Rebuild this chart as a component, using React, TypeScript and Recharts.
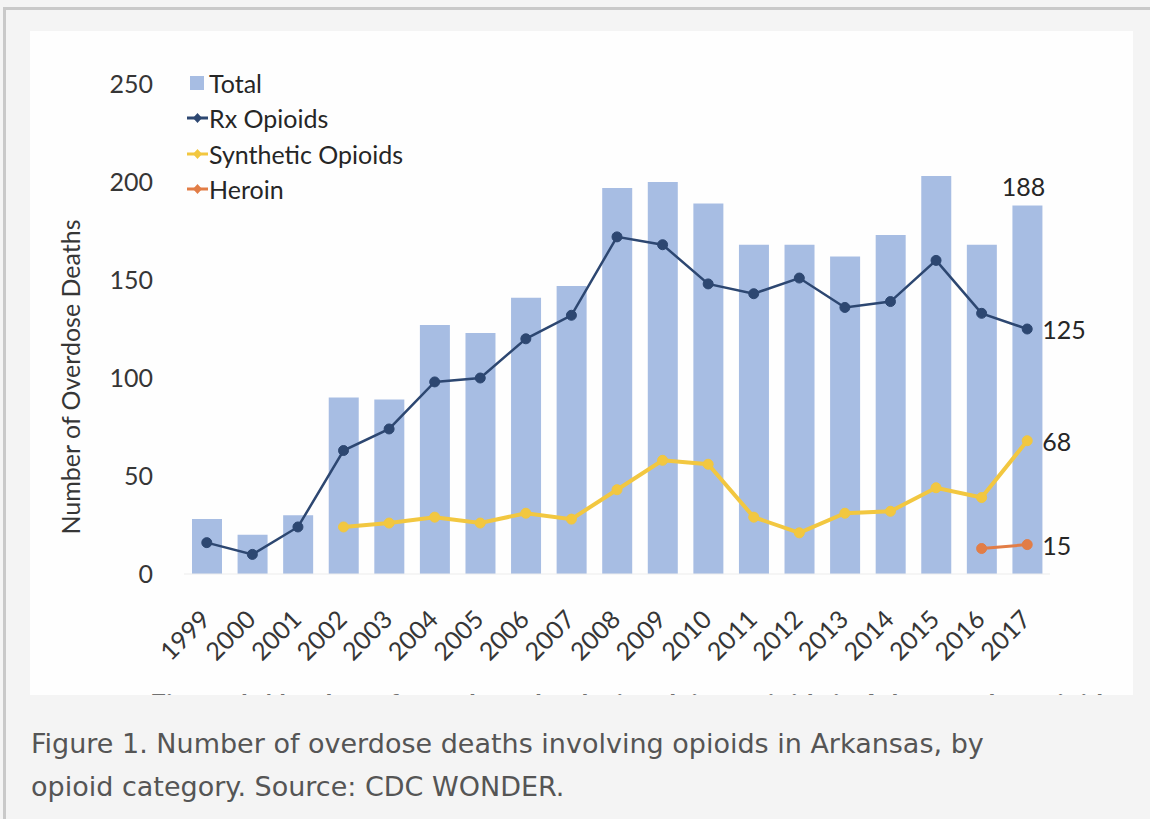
import React from 'react';
import {
  ComposedChart,
  Bar,
  Line,
  XAxis,
  YAxis,
  Legend,
  LabelList,
} from 'recharts';

// Overdose deaths involving opioids in Arkansas, 1999–2017 (CDC WONDER)
const years = [
  '1999', '2000', '2001', '2002', '2003', '2004', '2005', '2006', '2007', '2008',
  '2009', '2010', '2011', '2012', '2013', '2014', '2015', '2016', '2017',
];
const totalDeaths = [28, 20, 30, 90, 89, 127, 123, 141, 147, 197, 200, 189, 168, 168, 162, 173, 203, 168, 188];
const rxOpioidDeaths = [16, 10, 24, 63, 74, 98, 100, 120, 132, 172, 168, 148, 143, 151, 136, 139, 160, 133, 125];
const syntheticOpioidDeaths: (number | null)[] = [
  null, null, null, 24, 26, 29, 26, 31, 28, 43, 58, 56, 29, 21, 31, 32, 44, 39, 68,
];
const heroinDeaths: (number | null)[] = [
  null, null, null, null, null, null, null, null, null, null,
  null, null, null, null, null, null, null, 13, 15,
];
const yTicks = [0, 50, 100, 150, 200, 250];

const seriesNames = {
  total: 'Total',
  rx: 'Rx Opioids',
  synthetic: 'Synthetic Opioids',
  heroin: 'Heroin',
};
const legendOrder = [seriesNames.total, seriesNames.rx, seriesNames.synthetic, seriesNames.heroin];

const colors = {
  total: '#a7bde3',
  rx: '#2d4771',
  synthetic: '#f2c740',
  heroin: '#e27d46',
  text: '#363636',
  label: '#262626',
};

const chartFont = 'Lato, "Open Sans", sans-serif';

const data = years.map((year, i) => ({
  year,
  total: totalDeaths[i],
  rx: rxOpioidDeaths[i],
  synthetic: syntheticOpioidDeaths[i],
  heroin: heroinDeaths[i],
}));

const lastIndex = years.length - 1;

// Rotated year labels under each bar
const YearTick = (props: any) => {
  const { x, y, payload } = props;
  const ax = x + 5;
  const ay = y + 39;
  return (
    <text
      x={ax}
      y={ay}
      transform={`rotate(-45, ${ax}, ${ay})`}
      textAnchor="end"
      fontFamily={chartFont}
      fontSize={25}
      fill={colors.text}
    >
      {payload.value}
    </text>
  );
};

// Value written to the right of the final point of a line
const makeEndLabel = (color: string) => (props: any) => {
  const { x, y, value, index } = props;
  if (index !== lastIndex || value == null) return null;
  return (
    <text
      x={x + 15}
      y={y}
      dominantBaseline="central"
      fontFamily={chartFont}
      fontSize={25}
      fill={color}
    >
      {value}
    </text>
  );
};

// Value written above the final bar
const barEndLabel = (props: any) => {
  const { x, y, width, value, index } = props;
  if (index !== lastIndex) return null;
  return (
    <text
      x={x + width / 2 - 4}
      y={y - 10}
      textAnchor="middle"
      fontFamily={chartFont}
      fontSize={25}
      fill={colors.label}
    >
      {value}
    </text>
  );
};

const LegendIcon = ({ type, color }: { type: string; color: string }) => {
  if (type === 'square') {
    return (
      <svg width={22} height={20} style={{ display: 'block' }}>
        <rect x={3} y={3} width={14} height={14} fill={color} />
      </svg>
    );
  }
  return (
    <svg width={22} height={20} style={{ display: 'block' }}>
      <line x1={0} y1={10} x2={21} y2={10} stroke={color} strokeWidth={3} />
      <path d={`M10.5 5 L15 10 L10.5 15 L6 10 Z`} fill={color} />
    </svg>
  );
};

const renderLegend = (props: any) => {
  const payload = [...(props.payload || [])].sort(
    (a: any, b: any) => legendOrder.indexOf(a.value) - legendOrder.indexOf(b.value),
  );
  return (
    <div style={{ display: 'flex', flexDirection: 'column' }}>
      {payload.map((entry: any) => (
        <div
          key={entry.value}
          style={{
            display: 'flex',
            alignItems: 'center',
            height: 35.5,
            fontFamily: chartFont,
            fontSize: 25,
            color: colors.label,
            whiteSpace: 'nowrap',
          }}
        >
          <LegendIcon type={entry.type === 'rect' ? 'square' : 'line'} color={entry.color} />
          <span>{entry.value}</span>
        </div>
      ))}
    </div>
  );
};

const yTitle = (props: any) => {
  const { viewBox } = props;
  const cx = viewBox.x + 40;
  const cy = viewBox.y + viewBox.height / 2 + 48;
  return (
    <text
      x={cx}
      y={cy}
      transform={`rotate(-90, ${cx}, ${cy})`}
      textAnchor="middle"
      dominantBaseline="central"
      fontFamily={chartFont}
      fontSize={25}
      fill={colors.text}
    >
      Number of Overdose Deaths
    </text>
  );
};

export default function App() {
  return (
    <div
      style={{
        position: 'fixed',
        left: 0,
        top: 0,
        width: 1150,
        height: 819,
        background: '#f4f4f4',
        overflow: 'hidden',
      }}
    >
      {/* frame lines */}
      <div style={{ position: 'absolute', left: 3, top: 7, width: 1147, height: 3, background: '#c9c9c9' }} />
      <div style={{ position: 'absolute', left: 3, top: 7, width: 3, height: 812, background: '#c9c9c9' }} />

      {/* chart panel */}
      <div
        style={{
          position: 'absolute',
          left: 30,
          top: 31,
          width: 1103,
          height: 664,
          background: '#fefefe',
          overflow: 'hidden',
        }}
      >
        <ComposedChart
          width={1103}
          height={662}
          data={data}
          margin={{ top: 53, right: 83, left: 0, bottom: 0 }}
        >
          <XAxis
            dataKey="year"
            interval={0}
            height={119}
            axisLine={{ stroke: '#ececec', strokeWidth: 1 }}
            tickLine={false}
            tick={<YearTick />}
          />
          <YAxis
            width={154}
            domain={[0, 250]}
            ticks={yTicks}
            axisLine={false}
            tickLine={false}
            tickSize={0}
            tickMargin={31}
            tick={{ fontFamily: chartFont, fontSize: 25, fill: colors.text }}
            label={{ content: yTitle }}
          />
          <Legend
            layout="vertical"
            align="center"
            verticalAlign="middle"
            content={renderLegend}
            wrapperStyle={{ left: 157, top: 34, width: 300, transform: 'none' }}
          />
          <Bar
            dataKey="total"
            name={seriesNames.total}
            fill={colors.total}
            barSize={30}
            isAnimationActive={false}
            legendType="rect"
          >
            <LabelList dataKey="total" content={barEndLabel} />
          </Bar>
          <Line
            dataKey="rx"
            name={seriesNames.rx}
            stroke={colors.rx}
            strokeWidth={2.5}
            dot={{ r: 5, fill: colors.rx, stroke: colors.rx, strokeWidth: 1 }}
            isAnimationActive={false}
            legendType="line"
          >
            <LabelList dataKey="rx" content={makeEndLabel(colors.label)} />
          </Line>
          <Line
            dataKey="synthetic"
            name={seriesNames.synthetic}
            stroke={colors.synthetic}
            strokeWidth={4}
            dot={{ r: 5, fill: colors.synthetic, stroke: colors.synthetic, strokeWidth: 1 }}
            isAnimationActive={false}
            legendType="line"
          >
            <LabelList dataKey="synthetic" content={makeEndLabel(colors.label)} />
          </Line>
          <Line
            dataKey="heroin"
            name={seriesNames.heroin}
            stroke={colors.heroin}
            strokeWidth={3}
            dot={{ r: 5, fill: colors.heroin, stroke: colors.heroin, strokeWidth: 1 }}
            isAnimationActive={false}
            legendType="line"
          >
            <LabelList dataKey="heroin" content={makeEndLabel(colors.label)} />
          </Line>
        </ComposedChart>

        {/* figure title running off the bottom edge of the panel */}
        <div
          style={{
            position: 'absolute',
            left: 120,
            top: 659,
            whiteSpace: 'nowrap',
            fontFamily: chartFont,
            fontWeight: 700,
            fontSize: 28,
            lineHeight: '28px',
            color: '#707070',
          }}
        >
          Figure 1. Number of overdose deaths involving opioids in Arkansas, by opioid category
        </div>
      </div>

      {/* caption */}
      <div
        style={{
          position: 'absolute',
          left: 31,
          top: 722,
          width: 1080,
          fontFamily: '"DejaVu Sans", sans-serif',
          fontSize: 27,
          lineHeight: '43px',
          color: '#555555',
        }}
      >
        Figure 1. Number of overdose deaths involving opioids in Arkansas, by
        <br />
        opioid category. Source: CDC WONDER.
      </div>
    </div>
  );
}
